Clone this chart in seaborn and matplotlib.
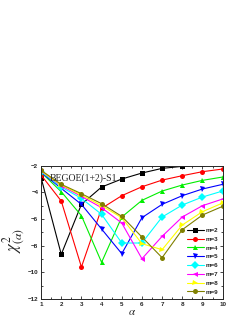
import numpy as np
import pandas as pd
import matplotlib
matplotlib.use('Agg')
import matplotlib.pyplot as plt
import seaborn as sns
from matplotlib.ticker import MultipleLocator

# datos
alpha = [1, 2, 3, 4, 5, 6, 7, 8, 9, 10]
m2 = [-2.9, -8.65, -4.9, -3.6, -3.0, -2.55, -2.2, -2.05, -1.9, -1.8]
m3 = [-2.7, -4.65, -9.6, -5.2, -4.25, -3.58, -3.08, -2.75, -2.45, -2.25]
m4 = [-2.5, -3.95, -5.75, -9.25, -5.85, -4.6, -3.9, -3.45, -3.1, -2.85]
m5 = [-2.5, -3.7, -4.9, -6.75, -8.6, -5.9, -4.9, -4.25, -3.75, -3.4]
m6 = [-2.45, -3.6, -4.45, -5.65, -7.8, -7.8, -5.85, -4.95, -4.35, -3.9]
m7 = [-2.4, -3.5, -4.3, -5.15, -6.3, -8.98, -7.3, -5.85, -5.0, -4.5]
m8 = [-2.4, -3.45, -4.2, -5.0, -5.9, -7.85, -8.3, -6.45, -5.45, -4.8]
m9 = [-2.35, -3.4, -4.1, -4.85, -5.8, -7.35, -8.9, -6.8, -5.7, -5.05]
series = {'m=2': m2, 'm=3': m3, 'm=4': m4, 'm=5': m5,
          'm=6': m6, 'm=7': m7, 'm=8': m8, 'm=9': m9}

colores = ['black', 'red', '#00ee00', 'blue', 'cyan', 'magenta', 'yellow', '#808000']
marcadores = ['s', 'o', '^', 'v', 'D', '<', '>', 'o']

filas = []
for nombre, vals in series.items():
    for a, v in zip(alpha, vals):
        filas.append({'alpha': a, 'chi2': v, 'm': nombre})
df = pd.DataFrame(filas)

sns.set_style('ticks')
plt.rcParams['font.family'] = ['Liberation Sans', 'DejaVu Sans']
plt.rcParams['mathtext.fontset'] = 'stix'

fig = plt.figure(figsize=(2.49, 3.23), dpi=100)
ax = fig.add_axes([0.165, 0.0743, 0.729, 0.4127])

sns.lineplot(data=df, x='alpha', y='chi2', hue='m', style='m',
             palette=colores, markers=dict(zip(series.keys(), marcadores)),
             dashes=False, markersize=3.6, linewidth=0.8,
             markeredgewidth=0, ax=ax)

ax.set_xlim(1, 10)
ax.set_ylim(-12, -2)
ax.xaxis.set_major_locator(MultipleLocator(1))
ax.xaxis.set_minor_locator(MultipleLocator(0.5))
ax.yaxis.set_major_locator(MultipleLocator(2))
ax.yaxis.set_minor_locator(MultipleLocator(1))
ax.tick_params(which='both', direction='in', top=True, right=True,
               labelsize=4.5, width=0.6, pad=2)
ax.tick_params(which='major', length=2.5)
ax.tick_params(which='minor', length=1.5)
for lbl in ax.get_xticklabels() + ax.get_yticklabels():
    lbl.set_fontweight('bold')
for s in ax.spines.values():
    s.set_linewidth(0.7)

ax.set_xlabel(r'$\alpha$', fontsize=8, labelpad=0)
ax.set_ylabel('')
# etiqueta del eje y
fig.text(0.055, 0.255, r'$\chi^{2}_{(\alpha)}$', fontsize=12, rotation=90,
         ha='center', va='center')
ax.text(1.45, -2.9, 'BEGOE(1+2)-S1', fontsize=7, family='Liberation Serif',
        va='center', ha='left')

leg = ax.legend(loc='lower right', frameon=False,
                handlelength=2.6, labelspacing=0.55, borderaxespad=0.3,
                handletextpad=0.3, prop={'weight': 'bold', 'size': 4.5})

fig.savefig('out.png', dpi=100)
